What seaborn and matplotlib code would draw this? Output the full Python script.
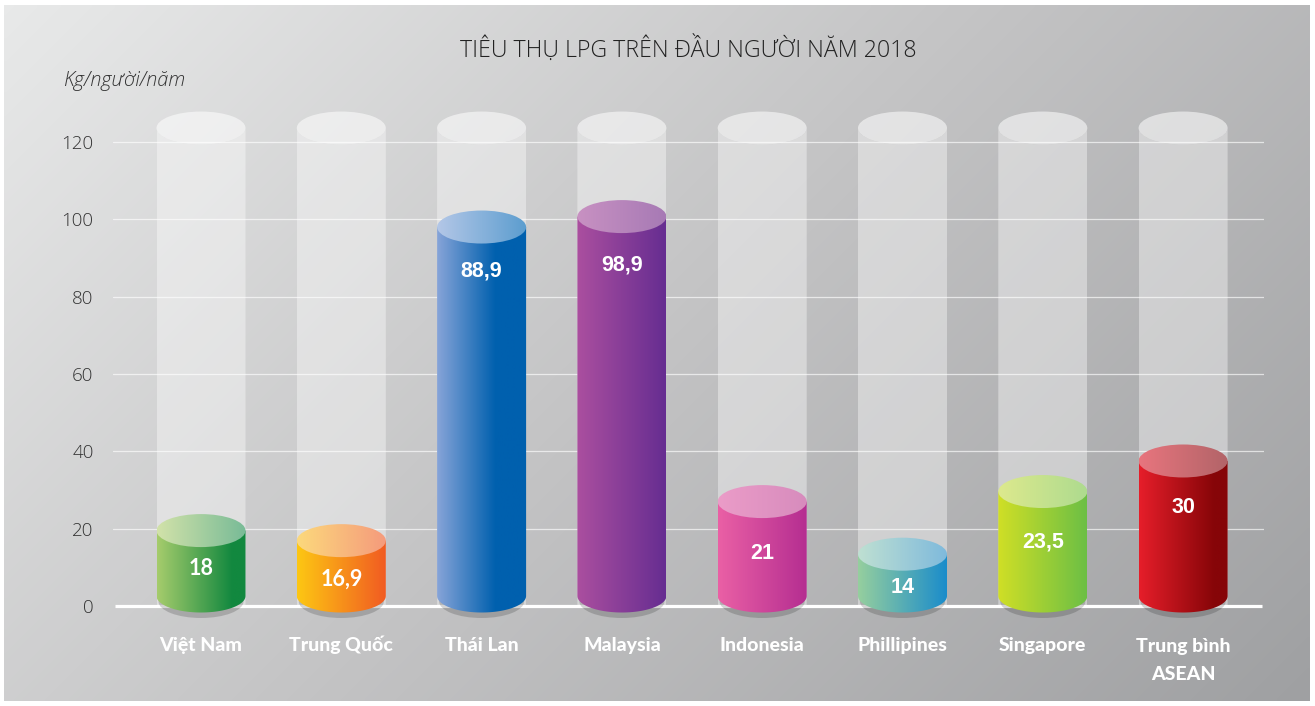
import numpy as np
import matplotlib
matplotlib.use("Agg")
import matplotlib.pyplot as plt
from matplotlib.colors import LinearSegmentedColormap
from matplotlib.patches import Ellipse, PathPatch
from matplotlib.path import Path
import seaborn as sns

# Data
categories = ['Việt Nam', 'Trung Quốc', 'Thái Lan', 'Malaysia', 'Indonesia',
              'Phillipines', 'Singapore', 'Trung bình\nASEAN']
value_labels = ['18', '16,9', '88,9', '98,9', '21', '14', '23,5', '30']
# the drawn heights do not follow the printed numbers in the original
drawn_heights = [19.5, 16.9, 98.0, 100.7, 27.0, 13.4, 29.6, 37.5]
ghost_heights = [123.6] * 8
y_ticks = [0, 20, 40, 60, 80, 100, 120]

# Colours: body left, body right, cap left, cap right
body_left = ['#a6cc6c', '#fdc713', '#87a4d8', '#ab4f9f', '#ea60a5', '#96cf9e', '#d0df26', '#e61e2a']
body_right = ['#12883f', '#f15a22', '#0060ae', '#662d91', '#b52e91', '#1a8ccb', '#6cbf45', '#860508']
cap_left = ['#d2e2a9', '#fcd97c', '#b4c7e7', '#c891c2', '#eb9cc8', '#bfe0d2', '#dde98d', '#e8757e']
cap_right = ['#78bb97', '#f59a7c', '#5b9dcf', '#a77ab5', '#d78cbd', '#7fbadc', '#aedb8f', '#b26468']
grad_end = [0.85, 1.0, 0.65, 1.0, 1.0, 1.0, 1.0, 0.85]

# Layout, in pixels of the 1315x706 picture
W, H = 1315, 706
PX_Y = 3.867  # pixels per unit on the y axis
ZERO_Y = 606
FIRST_X, STEP_X = 201, 140.3
CAP_H = 33 / PX_Y
BASE = 10 / PX_Y
label_drop = [38, 39, 44, 48, 52, 33, 50, 47]
label_fonts = ['Lato', 'Lato'] + ['Liberation Sans'] * 6

sns.set_theme(style="white")
plt.rcParams['font.family'] = ['Open Sans', 'DejaVu Sans']

fig = plt.figure(figsize=(W / 100, H / 100), dpi=100)
fig.patch.set_facecolor('white')

# Diagonal grey background
bg = fig.add_axes([4 / W, 1 - 701 / H, 1306 / W, 696 / H], zorder=0)
xx, yy = np.meshgrid(np.linspace(0, 1, 300), np.linspace(0, 1, 200))
t = (xx * 1306 + yy * 696) / (1306 + 696)
bg_cmap = LinearSegmentedColormap.from_list('bg', ['#e8e9e9', '#c3c3c4', '#9fa0a2'])
bg.imshow(t, cmap=bg_cmap, aspect='auto', interpolation='bilinear')
bg.axis('off')

top_px, bottom_px, left_px, right_px = 100, 620, 113, 1264
ax = fig.add_axes([left_px / W, 1 - bottom_px / H, (right_px - left_px) / W, (bottom_px - top_px) / H], zorder=1)
ax.patch.set_alpha(0)

# Pale empty cylinders, then the real bars
sns.barplot(x=categories, y=ghost_heights, color='white', width=89 / STEP_X,
            saturation=1, errorbar=None, ax=ax, zorder=2)
n_ghost = len(ax.patches)
sns.barplot(x=categories, y=np.array(drawn_heights) - BASE, bottom=BASE, color='white',
            width=89 / STEP_X, saturation=1, errorbar=None, ax=ax, zorder=4)
ghost_bars = ax.patches[:n_ghost]
real_bars = ax.patches[n_ghost:]

xlim = ((left_px - FIRST_X) / STEP_X, (right_px - FIRST_X) / STEP_X)
ylim = ((ZERO_Y - bottom_px) / PX_Y, (ZERO_Y - top_px) / PX_Y)


def arc(cx, cy, w, start, end):
    a = np.linspace(start, end, 60)
    return np.column_stack([cx + w / 2 * np.cos(a), cy + CAP_H / 2 * np.sin(a)])


for bar in ghost_bars:
    x, w = bar.get_x(), bar.get_width()
    top = bar.get_height()
    cx = x + w / 2
    # body has a hollow top so the cap does not double up with it
    verts = np.vstack([[[x, 0]], arc(cx, top, w, np.pi, 2 * np.pi), [[x + w, 0]], [[x, 0]]])
    bar.set_alpha(0.38)
    bar.set_linewidth(0)
    bar.set_clip_path(Path(verts, closed=True), transform=ax.transData)
    ax.add_patch(Ellipse((cx, top), w, CAP_H, fc='white', ec='none', alpha=0.55, zorder=2))

for i, bar in enumerate(real_bars):
    x, w = bar.get_x(), bar.get_width()
    top = BASE + bar.get_height()
    cx = x + w / 2
    bar.set_visible(False)

    # soft shadow under the cylinder
    ax.add_patch(Ellipse((cx, BASE - 5.5 / PX_Y), w - 4 / STEP_X, CAP_H, fc='black', ec='none',
                         alpha=0.17, zorder=3))

    stop = grad_end[i]
    colors = [(0, body_left[i]), (stop, body_right[i])]
    if stop < 1:
        colors.append((1, body_right[i]))
    cmap = LinearSegmentedColormap.from_list(f'body{i}', colors)
    verts = np.vstack([[[x, top]], arc(cx, BASE, w, np.pi, 2 * np.pi), [[x + w, top]], [[x, top]]])
    im = ax.imshow(np.linspace(0, 1, 256)[None, :], cmap=cmap, aspect='auto', zorder=4,
                   extent=(x, x + w, BASE - CAP_H, top), interpolation='bilinear')
    im.set_clip_path(Path(verts, closed=True), transform=ax.transData)

    cmap = LinearSegmentedColormap.from_list(f'cap{i}', [cap_left[i], cap_right[i]])
    cap = Ellipse((cx, top), w, CAP_H, transform=ax.transData)
    im = ax.imshow(np.linspace(0, 1, 256)[None, :], cmap=cmap, aspect='auto', zorder=5,
                   extent=(x, x + w, top - CAP_H, top + CAP_H), interpolation='bilinear')
    im.set_clip_path(PathPatch(cap.get_path(), transform=cap.get_patch_transform() + ax.transData))

    ax.text(cx, top - label_drop[i] / PX_Y, value_labels[i], color='white', ha='center', va='center',
            fontsize=15.5, fontweight='bold', family=[label_fonts[i], 'DejaVu Sans'], zorder=6)

# Gridlines and the thick base line
ax.grid(False)
for tick in y_ticks[1:]:
    ax.axhline(tick, color='white', alpha=0.65, lw=0.9, zorder=1)
ax.plot([(115 - FIRST_X) / STEP_X, (1262 - FIRST_X) / STEP_X], [0, 0], color='white', lw=2.3,
        solid_capstyle='butt', zorder=2.5)

ax.set_xlim(xlim)
ax.set_ylim(ylim)
ax.set_yticks(y_ticks)
ax.set_yticklabels([str(v) for v in y_ticks], fontsize=13.5, color='#333333', fontweight='light')
ax.tick_params(axis='y', length=0, pad=14)
ax.set_xticks(range(len(categories)))
ax.set_xticklabels(categories, fontsize=14, fontweight='black', color='white',
                   family=['Lato', 'DejaVu Sans'], linespacing=1.75, va='baseline')
ax.tick_params(axis='x', length=0, pad=22.5)
# baseline alignment sits on the last line, so the two-line label needs more room
ax.xaxis.get_major_ticks()[-1].set_pad(43)
ax.set_xlabel('')
ax.set_ylabel('')
sns.despine(ax=ax, left=True, bottom=True)

fig.text(688 / W, 1 - 49 / H, 'TIÊU THỤ LPG TRÊN ĐẦU NGƯỜI NĂM 2018', ha='center', va='center',
         fontsize=16.7, color='#222222', fontweight='light', zorder=5)
fig.text(63 / W, 1 - 81 / H, 'Kg/người/năm', ha='left', va='center', fontsize=14.3,
         color='#333333', fontstyle='italic', fontweight='light', zorder=5)

plt.savefig('out.png', dpi=100)
